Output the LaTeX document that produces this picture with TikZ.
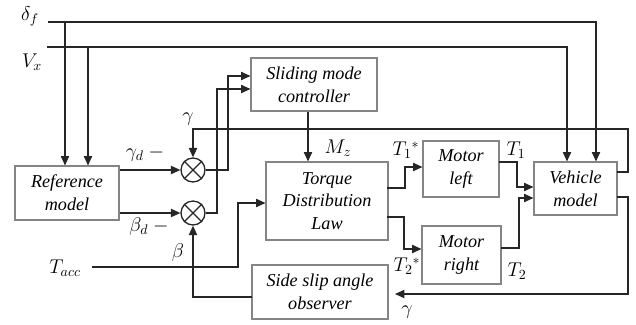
\documentclass[tikz,border=0pt]{standalone}
\usepackage{fix-cm}
\usepackage{fontspec}
\setmainfont{Liberation Serif}
\usetikzlibrary{arrows.meta,calc}
\definecolor{lc}{HTML}{262626}
\definecolor{bc}{HTML}{858585}
\begin{document}
\begin{tikzpicture}[x=0.03cm,y=-0.03cm,
  line/.style={draw=lc, line width=1.15pt},
  arr/.style={line, -{Triangle[length=8pt,width=7pt]}},
  blk/.style={draw=bc, line width=0.9pt, align=center, inner sep=0pt,
    font=\fontsize{15.5}{19.5}\selectfont\itshape},
  sumnode/.style={circle, draw=lc, line width=1.1pt, minimum size=0.72cm, inner sep=0pt},
  lab/.style={font=\fontsize{17}{19}\selectfont, inner sep=0pt}]
\useasboundingbox (0,0) rectangle (636,324);

% blocks
\node[blk, minimum width=3.12cm, minimum height=1.62cm] (ref) at (67,193) {Reference\\model};
\node[blk, minimum width=3.78cm, minimum height=1.59cm] (smc) at (314,84.5) {Sliding mode\\controller};
\node[blk, minimum width=3.66cm, minimum height=2.34cm] (tdl) at (327,201) {Torque\\Distribution\\Law};
\node[blk, minimum width=4.08cm, minimum height=1.62cm] (sso) at (320,292) {Side slip angle\\observer};
\node[blk, minimum width=2.28cm, minimum height=1.68cm] (ml) at (461,169) {Motor\\left};
\node[blk, minimum width=2.37cm, minimum height=1.74cm] (mr) at (461.5,255) {Motor\\right};
\node[blk, minimum width=2.49cm, minimum height=1.59cm] (veh) at (575.5,188.5) {Vehicle\\model};

% summing junctions
\node[sumnode] (s1) at (193,170) {};
\node[sumnode] (s2) at (193,213) {};
\foreach \s in {s1,s2}{
  \draw[line] (\s.north west) -- (\s.south east);
  \draw[line] (\s.north east) -- (\s.south west);
}

% helper coordinates
\coordinate (dfs) at (48,22);
\coordinate (vxs) at (47,47);
\coordinate (c596) at (596,0);
\coordinate (c567) at (567,0);
\coordinate (c65) at (65,0);
\coordinate (c88) at (88,0);
\coordinate (c308) at (308,0);
\coordinate (k1) at (228,76);
\coordinate (k2) at (217,89);
\coordinate (vo1) at (617,172);
\coordinate (g1) at (628,129);
\coordinate (vo2) at (617,197);
\coordinate (g2) at (628,294);
\coordinate (g3) at (395,294);
\coordinate (so1) at (252,297);
\coordinate (ta) at (92,267);
\coordinate (ta2) at (238,203);
\coordinate (t1a) at (387,188);
\coordinate (t1b) at (405,167);
\coordinate (t2a) at (387,217);
\coordinate (t2b) at (404,249);
\coordinate (m1a) at (499,162);
\coordinate (m1b) at (517,187);
\coordinate (m2a) at (501,248);
\coordinate (m2b) at (519,198);

% connectors
\draw[arr] (dfs) -| (c596 |- veh.north);
\draw[arr] (vxs) -| (c567 |- veh.north);
\draw[arr] (c65 |- dfs) -- (c65 |- ref.north);
\draw[arr] (c88 |- vxs) -- (c88 |- ref.north);
\draw[arr] (ref.east |- s1) -- (s1.west);
\draw[arr] (ref.east |- s2) -- (s2.west);
\draw[arr] (s1.east) -| (k1) -- (k1 -| smc.west);
\draw[arr] (s2.east) -| (k2) -- (k2 -| smc.west);
\draw[arr] (vo1) -| (g1) -| (s1.north);
\draw[arr] (vo2) -| (g2) -- (g3);
\draw[arr] (so1) -| (s2.south);
\draw[arr] (ta) -| (ta2) -- (ta2 -| tdl.west);
\draw[arr] (c308 |- smc.south) -- (c308 |- tdl.north);
\draw[arr] (t1a) -| (t1b) -- (t1b -| ml.west);
\draw[arr] (t2a) -| (t2b) -- (t2b -| mr.west);
\draw[arr] (m1a) -| (m1b) -- (m1b -| veh.west);
\draw[arr] (m2a) -| (m2b) -- (m2b -| veh.west);

% labels
\node[lab] (ldf) at (30,16) {$\delta_f$};
\node[lab] (lvx) at (32,62) {$V_x$};
\node[lab] (lgd) at (145,154) {$\gamma_d\ -$};
\node[lab] (lbd) at (149,227) {$\beta_d\ -$};
\node[lab] (lg1) at (188,119) {$\gamma$};
\node[lab] (lb) at (178,253) {$\beta$};
\node[lab] (lta) at (65,268) {$T_{acc}$};
\node[lab] (lmz) at (338,148) {$M_z$};
\node[lab] (lt1s) at (406,150) {$T_1{}^{*}$};
\node[lab] (lt2s) at (407,266) {$T_2{}^{*}$};
\node[lab] (lt1) at (516,150) {$T_1$};
\node[lab] (lt2) at (517,271) {$T_2$};
\node[lab] (lg2) at (407,312) {$\gamma$};
\end{tikzpicture}
\end{document}
